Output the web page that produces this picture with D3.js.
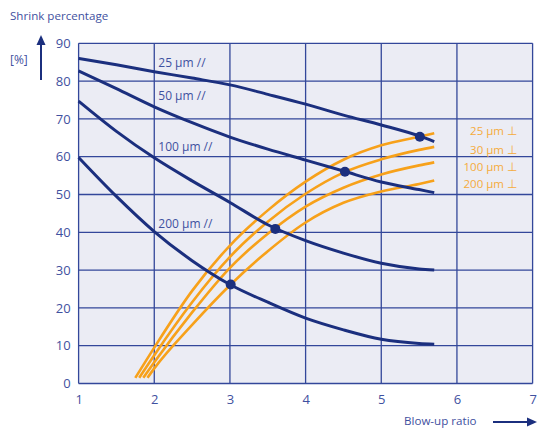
<!DOCTYPE html>
<html>
<head>
<meta charset="utf-8">
<script src="https://cdn.jsdelivr.net/npm/d3@7/dist/d3.min.js"></script>
<style>
  html, body { margin: 0; padding: 0; background: #ffffff; }
  svg { display: block; }
  text { font-family: "Open Sans", "Noto Sans", sans-serif; }
</style>
</head>
<body>
<svg id="chart" width="537" height="428"></svg>
<script>
// ---- data ----
const xTicks = [1, 2, 3, 4, 5, 6, 7];
const yTicks = [0, 10, 20, 30, 40, 50, 60, 70, 80, 90];

// machine-direction (//) curves
const mdX = [1, 1.5, 2, 2.5, 3, 3.5, 4, 4.5, 5, 5.5, 5.7];
const md25 = [86, 84.3, 82.5, 80.8, 79, 76.5, 73.9, 71, 68.4, 65.5, 64];
const md50 = [82.7, 78, 73.2, 69, 65.2, 62, 59.1, 56.2, 53.3, 51.3, 50.5];
const md100 = [74.7, 66.7, 59.7, 53.6, 47.9, 42, 37.8, 34.5, 31.8, 30.3, 30];
const md200 = [59.8, 49.5, 40.2, 32.5, 26.2, 21.5, 17.3, 14.2, 11.7, 10.6, 10.4];
const mdLabels = ["25 µm //", "50 µm //", "100 µm //", "200 µm //"];
const mdLabelY = [83.8, 74.9, 61.4, 41.1];

// transverse-direction (⊥) curves
const tdX = [2, 2.5, 3, 3.5, 4, 4.5, 5, 5.5, 5.7];
const tdStartX = [1.75, 1.80, 1.855, 1.91];
const tdStartY = [1.5, 1.5, 1.5, 1.5];
const td25 = [9.5, 24.5, 36.5, 45.8, 53.4, 59.2, 63, 65.3, 66.2];
const td30 = [7.5, 21.5, 33.5, 42.8, 50.2, 55.8, 59.3, 61.8, 62.6];
const td100 = [5.6, 18.8, 30.6, 39.6, 46.8, 51.8, 55.3, 57.7, 58.5];
const td200 = [4, 15.5, 26, 35, 42.6, 47.8, 50.8, 52.8, 53.7];
const tdLabels = ["25 µm ⊥", "30 µm ⊥", "100 µm ⊥", "200 µm ⊥"];
const tdLabelY = [65.8, 60.8, 56.3, 51.7];

// intersection markers
const dotX = [5.51, 4.52, 3.60, 3.01];
const dotY = [65.3, 56.0, 40.9, 26.2];

// ---- drawing ----
const svg = d3.select("#chart");
const x = d3.scaleLinear().domain([1, 7]).range([78.6, 532.6]);
const y = d3.scaleLinear().domain([0, 90]).range([383.5, 43.3]);

const navy = "#1b2f7e";
const grid = "#33479a";
const orange = "#f7a11a";
const textBlue = "#3f51a0";

svg.append("rect")
  .attr("x", x(1)).attr("y", y(90))
  .attr("width", x(7) - x(1)).attr("height", y(0) - y(90))
  .attr("fill", "#ebecf4");

const g = svg.append("g");
g.selectAll("line.v").data(xTicks).join("line")
  .attr("x1", d => x(d)).attr("x2", d => x(d))
  .attr("y1", y(0)).attr("y2", y(90))
  .attr("stroke", grid).attr("stroke-width", 1.3);
g.selectAll("line.h").data(yTicks).join("line")
  .attr("x1", x(1)).attr("x2", x(7))
  .attr("y1", d => y(d)).attr("y2", d => y(d))
  .attr("stroke", grid).attr("stroke-width", 1.3);

// axes (labels only)
const xAxis = svg.append("g")
  .attr("transform", `translate(0,${y(0)})`)
  .call(d3.axisBottom(x).tickValues(xTicks).tickSize(0).tickPadding(11).tickFormat(d3.format("d")));
xAxis.select(".domain").remove();
xAxis.selectAll("text").attr("fill", textBlue).attr("font-size", 13).style("font-family", '"Open Sans", sans-serif');

const yAxis = svg.append("g")
  .attr("transform", `translate(${x(1)},0)`)
  .call(d3.axisLeft(y).tickValues(yTicks).tickSize(0).tickPadding(8).tickFormat(d3.format("d")));
yAxis.select(".domain").remove();
yAxis.selectAll("text").attr("fill", textBlue).attr("font-size", 13).style("font-family", '"Open Sans", sans-serif');

const line = d3.line().x(d => x(d[0])).y(d => y(d[1])).curve(d3.curveMonotoneX);

// orange curves
const tdSeries = [td25, td30, td100, td200];
tdSeries.forEach((s, i) => {
  const pts = [[tdStartX[i], tdStartY[i]]].concat(tdX.map((xv, j) => [xv, s[j]]));
  svg.append("path").attr("d", line(pts))
    .attr("fill", "none").attr("stroke", orange).attr("stroke-width", 2.6);
});

// navy curves
const mdSeries = [md25, md50, md100, md200];
mdSeries.forEach(s => {
  const pts = mdX.map((xv, j) => [xv, s[j]]);
  svg.append("path").attr("d", line(pts))
    .attr("fill", "none").attr("stroke", navy).attr("stroke-width", 3);
});

// dots
svg.selectAll("circle.dot").data(dotX).join("circle")
  .attr("cx", d => x(d)).attr("cy", (d, i) => y(dotY[i])).attr("r", 5)
  .attr("fill", navy);

// curve labels
svg.selectAll("text.md").data(mdLabels).join("text")
  .attr("x", x(2) + 4).attr("y", (d, i) => y(mdLabelY[i]))
  .attr("fill", textBlue).attr("font-size", 12).text(d => d);

svg.selectAll("text.td").data(tdLabels).join("text")
  .attr("x", 517).attr("y", (d, i) => y(tdLabelY[i]))
  .attr("text-anchor", "end")
  .attr("fill", "#f5ab3c").attr("font-size", 11.5).text(d => d);

// axis titles and arrows
svg.append("text").attr("x", 10).attr("y", 19.5)
  .attr("fill", textBlue).attr("font-size", 11.6).text("Shrink percentage");
svg.append("text").attr("x", 10).attr("y", 64)
  .attr("fill", textBlue).attr("font-size", 12).text("[%]");
svg.append("text").attr("x", 404).attr("y", 425)
  .attr("fill", textBlue).attr("font-size", 11.6).text("Blow-up ratio");

svg.append("line").attr("x1", 41).attr("x2", 41).attr("y1", 80).attr("y2", 44)
  .attr("stroke", navy).attr("stroke-width", 2);
svg.append("path").attr("d", "M41,35 L36.5,45 L45.5,45 Z").attr("fill", navy);

svg.append("line").attr("x1", 493).attr("x2", 528).attr("y1", 422).attr("y2", 422)
  .attr("stroke", navy).attr("stroke-width", 2);
svg.append("path").attr("d", "M537,422 L527,417.5 L527,426.5 Z").attr("fill", navy);
</script>
</body>
</html>
